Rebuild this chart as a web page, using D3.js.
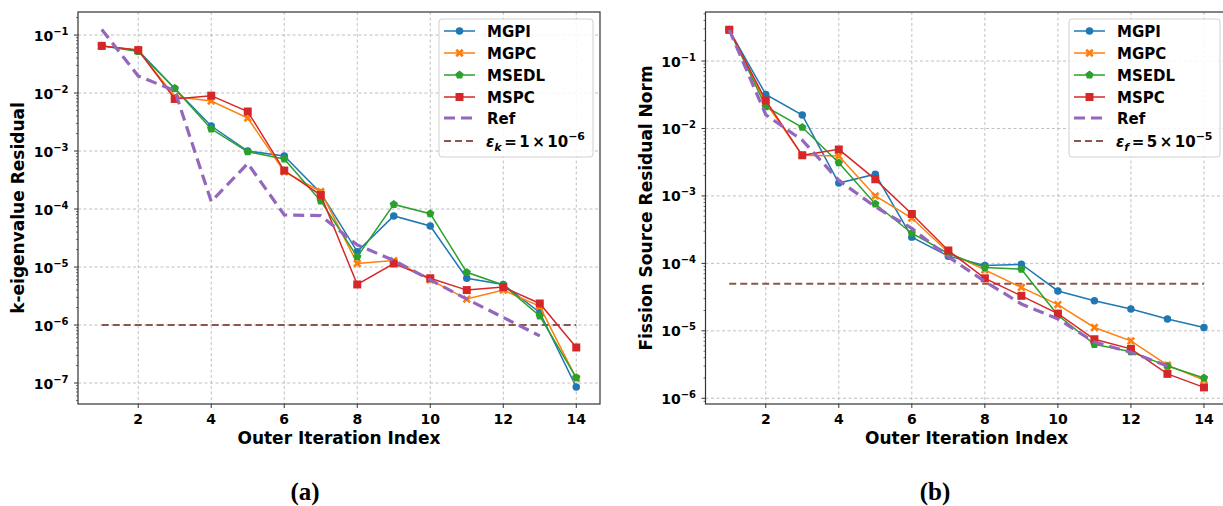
<!DOCTYPE html>
<html><head><meta charset="utf-8">
<script src="https://cdn.jsdelivr.net/npm/d3@7"></script>
<style>body{margin:0;background:#fff}svg{display:block}</style>
</head><body>
<svg id="c" width="1223" height="506"></svg>
<script>
const iterations = [1,2,3,4,5,6,7,8,9,10,11,12,13,14];
const xTicks = [2,4,6,8,10,12,14];
const seriesNames = ["MGPI","MGPC","MSEDL","MSPC"];
const seriesColors = ["#1f77b4","#ff7f0e","#2ca02c","#d62728"];
const seriesMarkers = ["circle","x","pentagon","square"];

// Panel (a): k-eigenvalue residual
const kMGPI  = [0.065,0.054,0.012,2.7e-3,1.0e-3,8.2e-4,1.9e-4,1.84e-5,7.6e-5,5.1e-5,6.4e-6,5.0e-6,1.65e-6,8.5e-8];
const kMGPC  = [0.065,0.054,8.7e-3,7.3e-3,3.7e-3,4.4e-4,2.0e-4,1.15e-5,1.29e-5,6.0e-6,2.8e-6,4.0e-6,2.1e-6,1.2e-7];
const kMSEDL = [0.065,0.052,0.012,2.4e-3,9.7e-4,7.3e-4,1.38e-4,1.5e-5,1.2e-4,8.3e-5,8.1e-6,4.9e-6,1.43e-6,1.24e-7];
const kMSPC  = [0.065,0.055,7.9e-3,9.0e-3,4.8e-3,4.6e-4,1.74e-4,5.0e-6,1.15e-5,6.4e-6,4.0e-6,4.5e-6,2.35e-6,4.1e-7];
const kRef   = [0.125,0.0196,0.011,1.35e-4,6.1e-4,7.9e-5,7.7e-5,2.4e-5,1.3e-5,6.0e-6,2.8e-6,1.35e-6,6.5e-7];
const kTol = 1e-6;
const kYTicks = [-7,-6,-5,-4,-3,-2,-1];

// Panel (b): fission source residual norm
const fMGPI  = [0.29,0.032,0.0158,1.55e-3,2.1e-3,2.45e-4,1.28e-4,9.3e-5,9.7e-5,3.9e-5,2.8e-5,2.1e-5,1.5e-5,1.12e-5];
const fMGPC  = [0.29,0.024,4.0e-3,3.9e-3,1.0e-3,4.7e-4,1.45e-4,8.0e-5,4.4e-5,2.45e-5,1.12e-5,7.1e-6,3.1e-6,1.87e-6];
const fMSEDL = [0.29,0.021,0.0104,3.1e-3,7.6e-4,2.8e-4,1.4e-4,8.7e-5,8.2e-5,1.7e-5,6.3e-6,4.9e-6,3.0e-6,2.0e-6];
const fMSPC  = [0.29,0.026,4.0e-3,4.9e-3,1.76e-3,5.4e-4,1.55e-4,6.0e-5,3.3e-5,1.8e-5,7.5e-6,5.4e-6,2.3e-6,1.45e-6];
const fRef   = [0.29,0.016,6.7e-3,1.7e-3,6.9e-4,3.3e-4,1.25e-4,5.4e-5,2.5e-5,1.5e-5,6.8e-6,4.8e-6,3.0e-6];
const fTol = 5e-5;
const fYTicks = [-6,-5,-4,-3,-2,-1];

const svg = d3.select("#c");
const FONT = "'DejaVu Sans', sans-serif";

function symbolPath(type, size){
  if(type==="circle") return d3.symbol(d3.symbolCircle, size)();
  if(type==="square") return d3.symbol(d3.symbolSquare, size)();
  if(type==="pentagon"){
    const r = Math.sqrt(size/2.4);
    const pts = d3.range(5).map(i=>{const a=-Math.PI/2+i*2*Math.PI/5;return [r*Math.cos(a),r*Math.sin(a)];});
    return "M"+pts.map(p=>p.join(",")).join("L")+"Z";
  }
  if(type==="x"){
    const s = Math.sqrt(size)/2, w = s*0.45;
    const p = [[-s,-s+w],[-s+w,-s],[0,-w],[s-w,-s],[s,-s+w],[w,0],[s,s-w],[s-w,s],[0,w],[-s+w,s],[-s,s-w],[-w,0]];
    return "M"+p.map(q=>q.join(",")).join("L")+"Z";
  }
}
const markerSize = {circle:44, x:70, pentagon:46, square:64};

function drawPanel(o){
  const g = svg.append("g");
  const x = d3.scaleLinear().domain([0.35,14.65]).range([o.x0,o.x1]);
  const y = d3.scaleLog().domain(o.yDomain).range([o.y1,o.y0]);
  const clipId = "clip"+o.id;
  svg.append("clipPath").attr("id",clipId).append("rect")
    .attr("x",o.x0).attr("y",o.y0).attr("width",o.x1-o.x0).attr("height",o.y1-o.y0);

  // grid
  const grid = g.append("g").attr("stroke","#b0b0b0").attr("stroke-width",0.8).attr("stroke-dasharray","3,2.5");
  xTicks.forEach(t=>grid.append("line").attr("x1",x(t)).attr("x2",x(t)).attr("y1",o.y0).attr("y2",o.y1));
  o.yTicks.forEach(e=>grid.append("line").attr("x1",o.x0).attr("x2",o.x1).attr("y1",y(Math.pow(10,e))).attr("y2",y(Math.pow(10,e))));

  const plot = g.append("g").attr("clip-path",`url(#${clipId})`);
  const line = d3.line().x((d,i)=>x(iterations[i])).y(d=>y(d));

  plot.append("path").attr("d",line(iterations.map(()=>o.tol)))
    .attr("fill","none").attr("stroke","#8c564b").attr("stroke-width",2).attr("stroke-dasharray","7,4");

  o.series.forEach((s,k)=>{
    plot.append("path").attr("d",line(s)).attr("fill","none")
      .attr("stroke",seriesColors[k]).attr("stroke-width",1.5);
    const m = seriesMarkers[k];
    plot.selectAll(null).data(s).enter().append("path")
      .attr("d",symbolPath(m,markerSize[m]))
      .attr("transform",(d,i)=>`translate(${x(iterations[i])},${y(d)})`)
      .attr("fill",seriesColors[k]);
  });
  plot.append("path").attr("d",line(o.ref)).attr("fill","none")
    .attr("stroke","#9467bd").attr("stroke-width",3.2).attr("stroke-dasharray","11,6");

  g.append("rect").attr("x",o.x0).attr("y",o.y0).attr("width",o.x1-o.x0).attr("height",o.y1-o.y0)
    .attr("fill","none").attr("stroke","#333").attr("stroke-width",1.2);

  xTicks.forEach(t=>{
    g.append("line").attr("x1",x(t)).attr("x2",x(t)).attr("y1",o.y1).attr("y2",o.y1+4).attr("stroke","#333");
    g.append("text").attr("x",x(t)).attr("y",o.y1+20).attr("text-anchor","middle")
      .attr("font-family",FONT).attr("font-weight","bold").attr("font-size",14).text(t);
  });
  const [lo,hi] = o.yDomain;
  for(let e=Math.floor(Math.log10(lo)); e<=Math.ceil(Math.log10(hi)); e++){
    for(let m=1;m<10;m++){
      const v = m*Math.pow(10,e);
      if(v<lo||v>hi) continue;
      g.append("line").attr("x1",o.x0).attr("x2",o.x0-(m===1?4:2)).attr("y1",y(v)).attr("y2",y(v))
        .attr("stroke","#333").attr("stroke-width",m===1?1:0.7);
    }
  }
  o.yTicks.forEach(e=>{
    const t = g.append("text").attr("x",o.x0-9.5).attr("y",y(Math.pow(10,e))+5.5).attr("text-anchor","end")
      .attr("font-family",FONT).attr("font-weight","bold").attr("font-size",14);
    t.append("tspan").text("10");
    t.append("tspan").attr("dy",-6).attr("font-size",10).text("\u2212"+(-e));
  });

  g.append("text").attr("x",o.xLabelX).attr("y",o.y1+40).attr("text-anchor","middle")
    .attr("font-family",FONT).attr("font-weight","bold").attr("font-size",17).text("Outer Iteration Index");
  g.append("text").attr("transform",`translate(${o.yLabelX},${(o.y0+o.y1)/2}) rotate(-90)`).attr("text-anchor","middle")
    .attr("font-family",FONT).attr("font-weight","bold").attr("font-size",17).text(o.yLabel);

  g.append("text").attr("x",o.tagX).attr("y",500).attr("text-anchor","middle")
    .attr("font-family","'Liberation Serif', serif").attr("font-weight","bold").attr("font-size",25).text(o.tag);

  const L = g.append("g");
  L.append("rect").attr("x",o.legX).attr("y",19).attr("width",o.legW).attr("height",138).attr("rx",3)
    .attr("fill","rgba(255,255,255,0.85)").attr("stroke","#d0d0d0").attr("stroke-width",1);
  const rows = [31,53,75,97,118,141];
  const lx0 = o.legX+5, lx1 = o.legX+36, tx = o.legX+48;
  seriesNames.forEach((n,k)=>{
    L.append("line").attr("x1",lx0).attr("x2",lx1).attr("y1",rows[k]).attr("y2",rows[k]).attr("stroke",seriesColors[k]).attr("stroke-width",1.5);
    const m = seriesMarkers[k];
    L.append("path").attr("d",symbolPath(m,markerSize[m])).attr("transform",`translate(${(lx0+lx1)/2},${rows[k]})`).attr("fill",seriesColors[k]);
    L.append("text").attr("x",tx).attr("y",rows[k]+5.5).attr("font-family",FONT).attr("font-weight","bold").attr("font-size",15).text(n);
  });
  L.append("line").attr("x1",lx0).attr("x2",lx1).attr("y1",rows[4]).attr("y2",rows[4]).attr("stroke","#9467bd").attr("stroke-width",3.2).attr("stroke-dasharray","11,6");
  L.append("text").attr("x",tx).attr("y",rows[4]+5.5).attr("font-family",FONT).attr("font-weight","bold").attr("font-size",15).text("Ref");
  L.append("line").attr("x1",lx0).attr("x2",lx1).attr("y1",rows[5]).attr("y2",rows[5]).attr("stroke","#8c564b").attr("stroke-width",2).attr("stroke-dasharray","7,4");
  const tt = L.append("text").attr("x",tx-1).attr("y",rows[5]+5.5).attr("font-family",FONT).attr("font-weight","bold").attr("font-size",15);
  tt.append("tspan").attr("font-style","italic").text("\u03b5");
  tt.append("tspan").attr("font-style","italic").attr("font-size",11).attr("dy",4).text(o.tolSub);
  tt.append("tspan").attr("dy",-4).attr("dx",2.5).text("=");
  tt.append("tspan").attr("dx",2.5).text(o.tolMant);
  tt.append("tspan").attr("dx",2.5).text("\u00d7");
  tt.append("tspan").attr("dx",2.5).text("10");
  tt.append("tspan").attr("dy",-7).attr("font-size",11).text("\u2212"+o.tolExp);
}

drawPanel({id:"a", x0:78, x1:600, y0:12, y1:404, yDomain:[Math.pow(10,-7.362),Math.pow(10,-0.603)],
  yTicks:kYTicks, series:[kMGPI,kMGPC,kMSEDL,kMSPC], ref:kRef, tol:kTol,
  yLabel:"k-eigenvalue Residual", yLabelX:24, tag:"(a)", tagX:305, xLabelX:339,
  legX:439, legW:154, tolSub:"k", tolMant:"1", tolExp:"6"});
drawPanel({id:"b", x0:705.5, x1:1227.7, y0:12, y1:404, yDomain:[Math.pow(10,-6.085),Math.pow(10,-0.273)],
  yTicks:fYTicks, series:[fMGPI,fMGPC,fMSEDL,fMSPC], ref:fRef, tol:fTol,
  yLabel:"Fission Source Residual Norm", yLabelX:652, tag:"(b)", tagX:935, xLabelX:966.6,
  legX:1069, legW:151, tolSub:"f", tolMant:"5", tolExp:"5"});
</script>
</body></html>
